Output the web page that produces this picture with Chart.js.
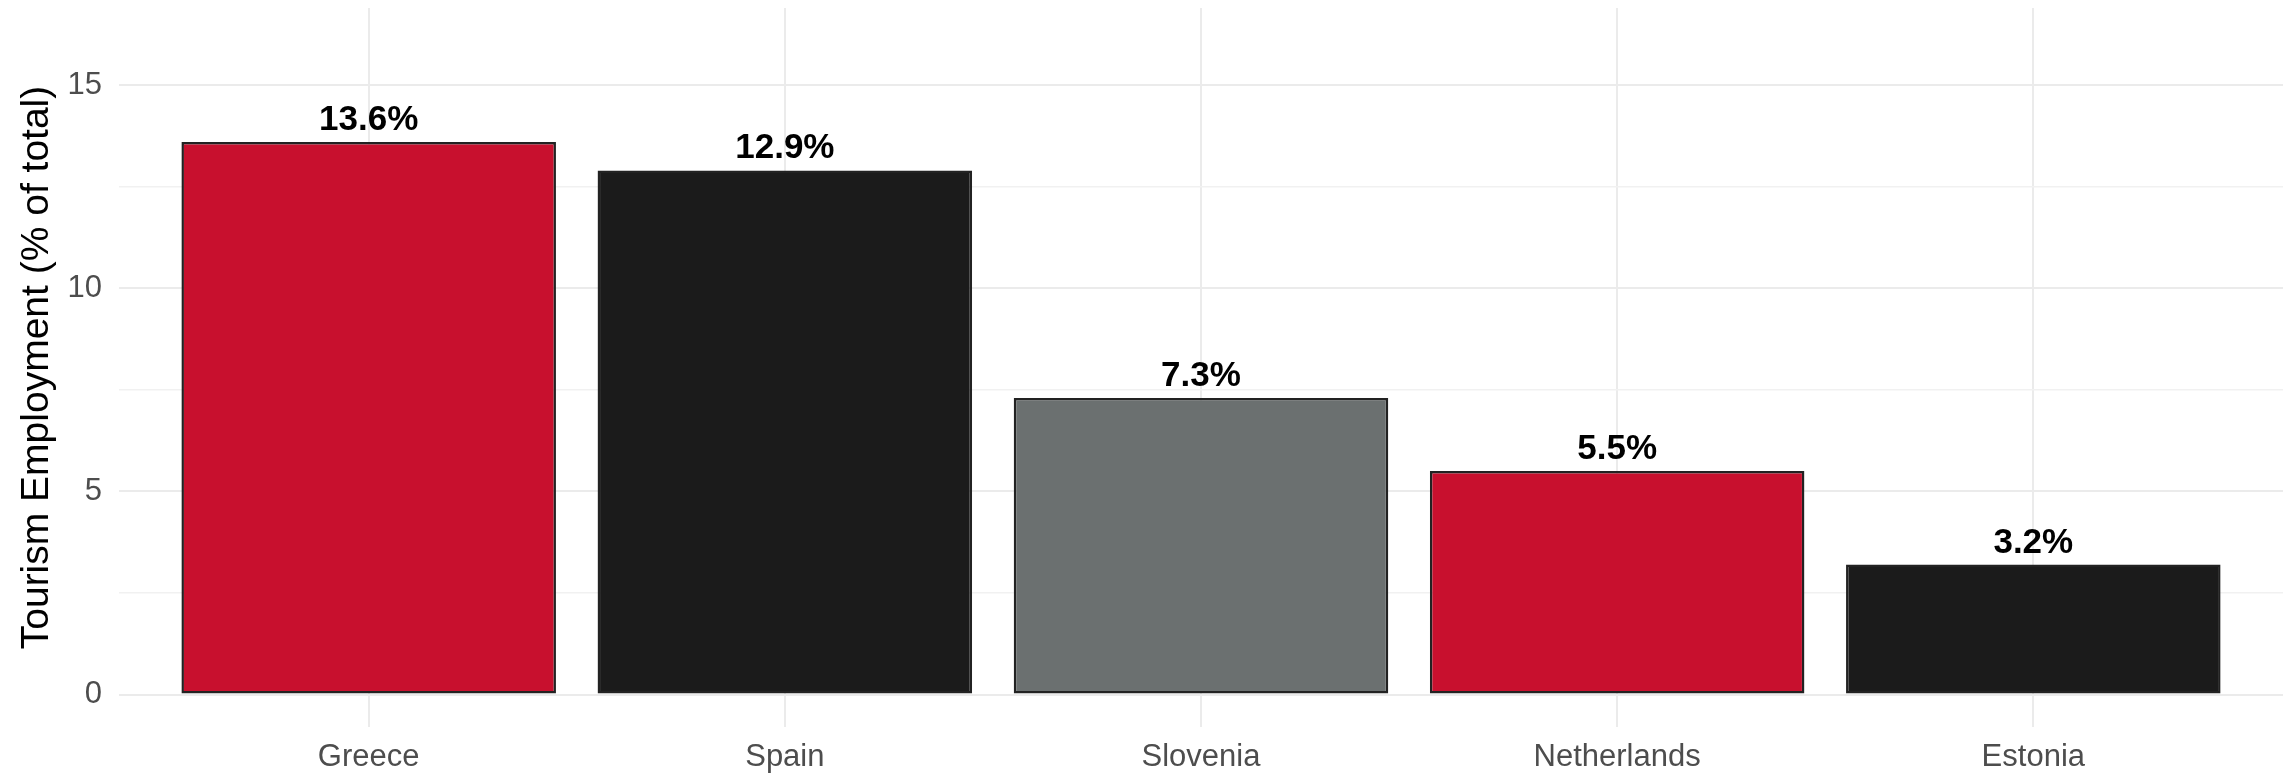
<!DOCTYPE html>
<html>
<head>
<meta charset="utf-8">
<script src="https://cdn.jsdelivr.net/npm/chart.js@4"></script>
<style>
  html, body { margin: 0; padding: 0; background: #ffffff; }
  #wrap { width: 2283px; height: 773px; }
</style>
</head>
<body>
<div id="wrap"><canvas id="c" width="2283" height="773"></canvas></div>
<script>
const categories = ["Greece", "Spain", "Slovenia", "Netherlands", "Estonia"];
const values = [13.6, 12.9, 7.3, 5.5, 3.2];
const barColors = ["#C8102E", "#1B1B1B", "#6B7070", "#C8102E", "#1B1B1B"];
const yTicks = [0, 2.5, 5, 7.5, 10, 12.5, 15];
const yLabelTicks = [0, 5, 10, 15];
const yTitle = "Tourism Employment (% of total)";

const FONT = "'Liberation Sans', Arial, sans-serif";

const labelPlugin = {
  id: 'valueLabels',
  afterDatasetsDraw(chart) {
    const ctx = chart.ctx;
    const meta = chart.getDatasetMeta(0);
    ctx.save();
    ctx.font = "bold 35px " + FONT;
    ctx.fillStyle = "#000000";
    ctx.textAlign = "center";
    ctx.textBaseline = "alphabetic";
    meta.data.forEach((bar, i) => {
      ctx.fillText(values[i].toFixed(1) + "%", bar.x, bar.y - 12);
    });
    ctx.restore();
  }
};

new Chart(document.getElementById('c'), {
  type: 'bar',
  data: {
    datasets: [{
      data: values.map((v, i) => ({ x: i, y: v })),
      backgroundColor: barColors,
      borderColor: "#222222",
      borderWidth: 2.5,
      borderSkipped: false,
      barPercentage: 0.9,
      categoryPercentage: 1.0
    }]
  },
  options: {
    responsive: false,
    animation: false,
    devicePixelRatio: 1,
    layout: { padding: { top: 8, right: 0, bottom: 0, left: 0 } },
    plugins: { legend: { display: false }, tooltip: { enabled: false } },
    scales: {
      x: {
        type: 'linear',
        min: -0.6,
        max: 4.6,
        offset: false,
        afterBuildTicks(axis) { axis.ticks = categories.map((_, i) => ({ value: i })); },
        afterFit(axis) { axis.height = 46; axis.paddingLeft = 0; axis.paddingRight = 0; },
        ticks: {
          callback: (v) => categories[v] ?? '',
          font: { family: FONT, size: 31 },
          color: "#4D4D4D",
          padding: 12,
          maxRotation: 0,
          autoSkip: false
        },
        grid: { color: "#EBEBEB", lineWidth: 2, drawTicks: false, offset: false },
        border: { display: false }
      },
      y: {
        type: 'linear',
        min: -0.8,
        max: 16.9,
        afterBuildTicks(axis) { axis.ticks = yTicks.map(v => ({ value: v })); },
        afterFit(axis) { axis.width = 119; axis.paddingTop = 0; axis.paddingBottom = 0; },
        ticks: {
          callback: (v) => yLabelTicks.includes(v) ? String(v) : '',
          font: { family: FONT, size: 31 },
          color: "#4D4D4D",
          padding: 17
        },
        grid: {
          color: (c) => (c.tick && yLabelTicks.includes(c.tick.value)) ? "#EBEBEB" : "#F1F1F1",
          lineWidth: (c) => (c.tick && yLabelTicks.includes(c.tick.value)) ? 2 : 1.5,
          drawTicks: false
        },
        border: { display: false },
        title: {
          display: true,
          text: yTitle,
          font: { family: FONT, size: 39 },
          color: "#000000",
          padding: { top: 14, bottom: 0 }
        }
      }
    }
  },
  plugins: [labelPlugin]
});
</script>
</body>
</html>
